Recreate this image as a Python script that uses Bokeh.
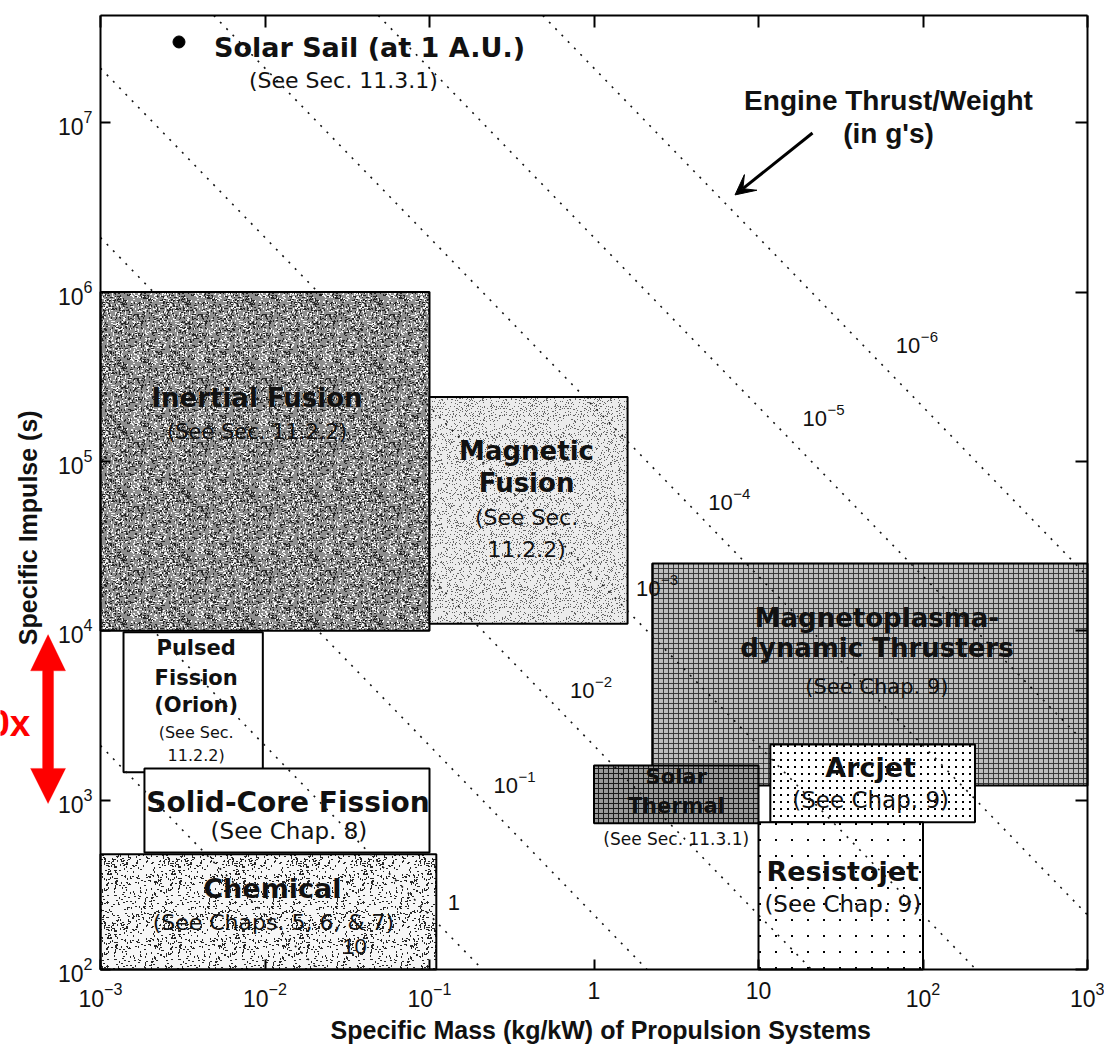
import base64
import numpy as np
from bokeh.plotting import figure
from bokeh.models import (LogAxis, FixedTicker, LogTickFormatter, CustomJSTickFormatter, Label,
                          Arrow, VeeHead, PolyAnnotation, ImageURLTexture, Range1d)
from bokeh.core.properties import value
from bokeh.embed import file_html
from bokeh.resources import INLINE

# --- propulsion system regions: specific mass (kg/kW) and specific impulse (s) ---
systems = ["Inertial Fusion", "Magnetic Fusion", "Magnetoplasmadynamic", "Solar Thermal",
           "Arcjet", "Resistojet", "Pulsed Fission", "Solid-Core Fission", "Chemical"]
mass_lo = [1e-3, 0.1, 2.26, 1.0, 11.8, 10.0, 1.38e-3, 1.85e-3, 1e-3]
mass_hi = [0.1, 1.6, 1e3, 10.0, 207.0, 100.0, 9.7e-3, 0.1, 0.11]
isp_lo = [1e4, 1.1e4, 1.22e3, 730.0, 740.0, 100.0, 1.46e3, 490.0, 100.0]
isp_hi = [1e6, 2.4e5, 2.5e4, 1.6e3, 2.13e3, 740.0, 9.8e3, 1.54e3, 480.0]

# solar sail at 1 A.U.
sail_mass = [3.0e-3]
sail_isp = [3.0e7]

# engine thrust/weight contours (in g's): mass * Isp * (T/W) = const
thrust_weight = [10, 1, 0.1, 0.01, 1e-3, 1e-4, 1e-5, 1e-6]
tw_const = 21.0
tw_base = ["10", "1", "10", "10", "10", "10", "10", "10"]
tw_expo = ["", "", "\u22121", "\u22122", "\u22123", "\u22124", "\u22125", "\u22126"]

x_ticks = [1e-3, 1e-2, 1e-1, 1, 10, 1e2, 1e3]
y_ticks = [1e2, 1e3, 1e4, 1e5, 1e6, 1e7]
X_LIM = (1e-3, 1e3)
Y_LIM = (1e2, 4.3e7)

# ---------------------------------------------------------------------------
# The frame spans the whole page; the axes are pinned to the plotting box so that
# margin annotations are drawn like everything else.
W, H = 1104, 1048
BOX_L, BOX_R, BOX_T, BOX_B = 100, 1087, 15, 969
lx0, lx1 = np.log10(X_LIM)
ly0, ly1 = np.log10(Y_LIM)
px_x = (BOX_R - BOX_L) / (lx1 - lx0)
px_y = (BOX_B - BOX_T) / (ly1 - ly0)
x_range = Range1d(10 ** (lx0 - BOX_L / px_x), 10 ** (lx1 + (W - BOX_R) / px_x))
y_range = Range1d(10 ** (ly0 - (H - BOX_B) / px_y), 10 ** (ly1 + BOX_T / px_y))

p = figure(width=W, height=H, x_axis_type="log", y_axis_type="log",
           x_range=x_range, y_range=y_range,
           output_backend="svg", toolbar_location=None,
           min_border=0, min_border_left=0, min_border_right=0,
           min_border_top=0, min_border_bottom=0,
           background_fill_color="white", border_fill_color="white")
p.grid.visible = False
p.outline_line_color = None

p.xaxis[0].fixed_location = Y_LIM[0]
p.xaxis[0].bounds = X_LIM
p.yaxis[0].fixed_location = X_LIM[0]
p.yaxis[0].bounds = Y_LIM
for ax, ticks in ((p.xaxis[0], x_ticks), (p.yaxis[0], y_ticks)):
    ax.ticker = FixedTicker(ticks=ticks)
    ax.formatter = LogTickFormatter()
    ax.major_tick_in = 10
    ax.major_tick_out = 0
    ax.minor_tick_line_color = None
    ax.major_tick_line_width = 2
    ax.axis_line_width = 2
    ax.major_label_text_font = "Liberation Sans"
    ax.major_label_text_font_size = "23px"
    ax.major_label_text_color = "#111111"
p.xaxis[0].major_label_standoff = 12
p.yaxis[0].major_label_standoff = 8
p.xaxis[0].major_label_overrides = {1: "1", 10: "10"}

for loc, ticks, fixed, bounds in (("above", x_ticks, Y_LIM[1], X_LIM),
                                  ("right", y_ticks, X_LIM[1], Y_LIM)):
    ax = LogAxis(ticker=FixedTicker(ticks=ticks), fixed_location=fixed, bounds=bounds,
                 major_tick_in=12, major_tick_out=0, minor_tick_line_color=None,
                 major_tick_line_width=2, axis_line_width=2,
                 formatter=CustomJSTickFormatter(code="return ' '"),
                 major_label_text_font_size="1px", major_label_text_alpha=0,
                 major_label_standoff=0)
    p.add_layout(ax, loc)


# --- region textures (small SVG tiles) ---
def tile(size, rects):
    body = "".join(f'<rect x="{x}" y="{y}" width="{w}" height="{h}" fill="{c}"/>'
                   for x, y, w, h, c in rects)
    svg = (f'<svg xmlns="http://www.w3.org/2000/svg" width="{size}" height="{size}">'
           f'{body}</svg>')
    return ImageURLTexture(url="data:image/svg+xml;base64," +
                           base64.b64encode(svg.encode()).decode())


def speckle(seed, size, layers):
    state = seed
    rects = []
    for color, count, w, h in layers:
        for _ in range(count):
            vals = []
            for _ in range(3):
                state = (state * 16807) % 2147483647
                vals.append(state / 2147483647)
            sw, sh = (w, h) if vals[2] < 0.5 else (h, w)
            rects.append((int(vals[0] * size), int(vals[1] * size), sw, sh, color))
    return tile(size, rects)


styles = {
    "Inertial Fusion": dict(fill_color="#8e8e8e", hatch_pattern=value("grain"),
                            hatch_extra={"grain": speckle(7, 64, [("#262626", 540, 2, 1),
                                                                  ("#f4f4f4", 400, 2, 1)])}),
    "Magnetic Fusion": dict(fill_color="#ececec", hatch_pattern=value("stipple"),
                            hatch_extra={"stipple": speckle(11, 64, [("#666666", 650, 1, 1)])}),
    "Magnetoplasmadynamic": dict(fill_color="#bdbdbd", hatch_pattern="cross", hatch_scale=5,
                                 hatch_color="#2e2e2e", hatch_weight=0.9),
    "Solar Thermal": dict(fill_color="#9a9a9a", hatch_pattern="cross", hatch_scale=5,
                          hatch_color="#1a1a1a", hatch_weight=1.0),
    "Arcjet": dict(fill_color="white", hatch_pattern=value("pts"),
                   hatch_extra={"pts": tile(7, [(3, 3, 2, 2, "#000000")])}),
    "Resistojet": dict(fill_color="white", hatch_pattern=value("pts"),
                       hatch_extra={"pts": tile(16, [(7, 7, 2, 2, "#000000")])}),
    "Pulsed Fission": dict(fill_color="white"),
    "Solid-Core Fission": dict(fill_color="white"),
    "Chemical": dict(fill_color="#f6f6f6", hatch_pattern=value("dash"),
                     hatch_extra={"dash": speckle(23, 64, [("#262626", 340, 2, 1)])}),
}
for name, x0, x1, y0, y1 in zip(systems, mass_lo, mass_hi, isp_lo, isp_hi):
    p.quad(left=[x0], right=[x1], bottom=[y0], top=[y1], line_color="black",
           line_width=2, **styles[name])

# --- thrust/weight contours, kept inside the plotting box ---
tw_xs, tw_ys = [], []
for tw in thrust_weight:
    m0 = max(X_LIM[0], tw_const / (tw * Y_LIM[1]))
    m1 = min(X_LIM[1], tw_const / (tw * Y_LIM[0]))
    tw_xs.append([m0, m1])
    tw_ys.append([tw_const / (tw * m0), tw_const / (tw * m1)])
p.multi_line(xs=tw_xs, ys=tw_ys, line_color="#151515", line_width=1.6, line_dash="2 7")

# contour labels
tw_label_mass = [0.0295, 0.129, 0.245, 0.715, 1.80, 4.95, 18.5, 68.4]
tw_label_isp = [137.0, 249.0, 1.22e3, 4.44e3, 1.77e4, 5.71e4, 1.79e5, 4.83e5]
for base, expo, xm, yi in zip(tw_base, tw_expo, tw_label_mass, tw_label_isp):
    p.text(x=[xm], y=[yi], text=[base], text_font=value("Liberation Sans"),
           text_font_size=value("22px"), text_align="left", text_baseline="middle",
           text_color="#111111")
    if expo:
        p.text(x=[xm], y=[yi], text=[expo], x_offset=25, y_offset=-9,
               text_font=value("Liberation Sans"), text_font_size=value("15px"),
               text_align="left", text_baseline="middle", text_color="#111111")

# --- region captions (offsets in px from each region's centre) ---
captions = {
    "Inertial Fusion": [("Inertial Fusion", -8, -63, 26, "bold"),
                        ("(See Sec. 11.2.2)", -8, -29, 21, "normal")],
    "Magnetic Fusion": [("Magnetic", -2, -59, 26, "bold"), ("Fusion", -2, -27, 26, "bold"),
                        ("(See Sec.", -2, 7, 22, "normal"), ("11.2.2)", -2, 39, 22, "normal")],
    "Magnetoplasmadynamic": [("Magnetoplasma-", 7, -56, 26, "bold"),
                             ("dynamic Thrusters", 7, -26, 26, "bold"),
                             ("(See Chap. 9)", 7, 13, 21, "normal")],
    "Solar Thermal": [("Solar", 0, -17, 21, "bold"), ("Thermal", 0, 12, 21, "bold"),
                      ("(See Sec. 11.3.1)", 0, 45, 17, "normal")],
    "Arcjet": [("Arcjet", -2, -16, 27, "bold"), ("(See Chap. 9)", -2, 17, 23, "normal")],
    "Resistojet": [("Resistojet", 2, -24, 27, "bold"), ("(See Chap. 9)", 2, 8, 23, "normal")],
    "Pulsed Fission": [("Pulsed", 3, -54, 21, "bold"), ("Fission", 3, -24, 21, "bold"),
                       ("(Orion)", 3, 3, 21, "bold"), ("(See Sec.", 3, 30, 16, "normal"),
                       ("11.2.2)", 3, 53, 16, "normal")],
    "Solid-Core Fission": [("Solid-Core Fission", 1, -8, 28, "bold"),
                           ("(See Chap. 8)", 2, 20, 23, "normal")],
    "Chemical": [("Chemical", 4, -23, 27, "bold"),
                 ("(See Chaps. 5, 6, & 7)", 5, 11, 22, "normal")],
}
for name, x0, x1, y0, y1 in zip(systems, mass_lo, mass_hi, isp_lo, isp_hi):
    cx, cy = np.sqrt(x0 * x1), np.sqrt(y0 * y1)
    for txt, dx, dy, size, style in captions[name]:
        p.text(x=[cx], y=[cy], text=[txt], x_offset=dx, y_offset=dy,
               text_font=value("DejaVu Sans"), text_font_style=style,
               text_font_size=value(f"{size}px"), text_align="center",
               text_baseline="middle", text_color="#111111")

# --- solar sail ---
p.scatter(x=sail_mass, y=sail_isp, size=12, color="black")
p.text(x=sail_mass, y=sail_isp, text=["Solar Sail (at 1 A.U.)"], x_offset=35, y_offset=6,
       text_font=value("DejaVu Sans"), text_font_style="bold", text_font_size=value("27px"),
       text_align="left", text_baseline="middle", text_color="#111111")
p.text(x=sail_mass, y=sail_isp, text=["(See Sec. 11.3.1)"], x_offset=70, y_offset=39,
       text_font=value("DejaVu Sans"), text_font_size=value("22px"),
       text_align="left", text_baseline="middle", text_color="#111111")

# --- thrust/weight pointer ---
arrow_from = (21.3, 8.7e6)
arrow_to = (7.2, 3.75e6)
p.add_layout(Arrow(end=VeeHead(size=20, fill_color="black", line_color="black"),
                   x_start=arrow_from[0], y_start=arrow_from[1],
                   x_end=arrow_to[0], y_end=arrow_to[1], line_width=3, line_color="black"))
p.text(x=[arrow_from[0]], y=[arrow_from[1]], text=["Engine Thrust/Weight"], x_offset=76,
       y_offset=-33, text_font=value("Liberation Sans"), text_font_style="bold",
       text_font_size=value("28px"), text_align="center", text_baseline="middle",
       text_color="#111111")
p.text(x=[arrow_from[0]], y=[arrow_from[1]], text=["(in g's)"], x_offset=76, y_offset=0,
       text_font=value("Liberation Sans"), text_font_style="bold",
       text_font_size=value("28px"), text_align="center", text_baseline="middle",
       text_color="#111111")

# --- axis titles ---
p.add_layout(Label(x=1.1, y=43.7, text="Specific Mass (kg/kW) of Propulsion Systems",
                   text_font="Liberation Sans", text_font_style="bold",
                   text_font_size="25px", text_align="center", text_baseline="middle",
                   text_color="#111111"))
p.add_layout(Label(x=3.6e-4, y=4.06e4, text="Specific Impulse (s)", angle=np.pi / 2,
                   text_font="Liberation Sans", text_font_style="bold",
                   text_font_size="25px", text_align="center", text_baseline="middle",
                   text_color="#111111"))

# --- one decade marker in the left margin ---
decade_top, decade_bottom = 9.5e3, 955.0
head_top, head_bottom = 5.8e3, 1.54e3
mx, shaft, head = 4.8e-4, 10 ** 0.0334, 10 ** 0.1064
p.add_layout(PolyAnnotation(
    xs=[mx, mx * head, mx * shaft, mx * shaft, mx * head, mx,
        mx / head, mx / shaft, mx / shaft, mx / head],
    ys=[decade_top, head_top, head_top, head_bottom, head_bottom, decade_bottom,
        head_bottom, head_bottom, head_top, head_top],
    fill_color="#fe0000", fill_alpha=1.0, line_color="#fe0000", line_width=1))
p.add_layout(Label(x=3.75e-4, y=2.83e3, text="10x",
                   text_font="Liberation Sans", text_font_style="bold",
                   text_font_size="37px", text_align="right", text_baseline="middle",
                   text_color="#fe0000"))

open("out.html", "w").write(file_html(p, INLINE))
